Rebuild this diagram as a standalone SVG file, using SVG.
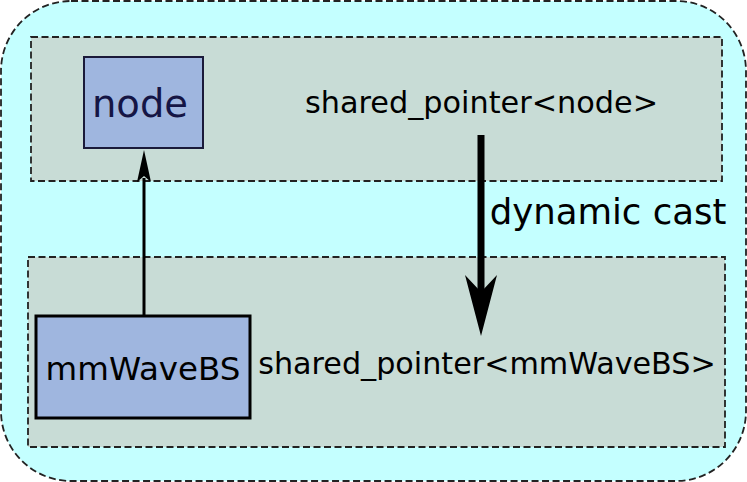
<svg xmlns="http://www.w3.org/2000/svg" width="747" height="482" viewBox="0 0 747 482">
<style>
.frame{stroke:#222;stroke-width:1.8;stroke-dasharray:7,3.5}
.lbl{font-family:"DejaVu Sans",sans-serif;fill:#000}
</style>
<rect class="frame" x="1" y="1" width="745" height="480" rx="70" fill="#c4ffff"/>
<rect id="top-region" class="frame" x="31" y="37" width="691" height="144" fill="#c8dcd6"/>
<rect id="bottom-region" class="frame" x="28" y="257" width="697" height="190" fill="#c8dcd6"/>
<g id="connectors">
<line x1="144" y1="316" x2="144" y2="178" stroke="#000" stroke-width="3"/>
<path d="M144,150 L151,182 L144,176 L137,182 Z" fill="#000"/>
<line x1="481" y1="135" x2="481" y2="300" stroke="#000" stroke-width="7"/>
<path d="M481,336 L497,275 L481,292 L465,275 Z" fill="#000"/>
</g>
<g id="node">
<rect x="84" y="57" width="119" height="91" fill="#9fb6df" stroke="#1a1a3a" stroke-width="2"/>
<text class="lbl" x="140" y="117" font-size="38.5" text-anchor="middle" style="fill:#151545">node</text>
</g>
<g id="mmWaveBS">
<rect x="36" y="316" width="214" height="102" fill="#9fb6df" stroke="#000" stroke-width="3"/>
<text class="lbl" x="143" y="380" font-size="32.5" text-anchor="middle">mmWaveBS</text>
</g>
<text class="lbl" x="481.5" y="113" font-size="30.3" text-anchor="middle">shared_pointer&lt;node&gt;</text>
<text class="lbl" x="608" y="224" font-size="35.5" text-anchor="middle">dynamic cast</text>
<text class="lbl" x="487" y="374" font-size="30.2" text-anchor="middle">shared_pointer&lt;mmWaveBS&gt;</text>
</svg>
